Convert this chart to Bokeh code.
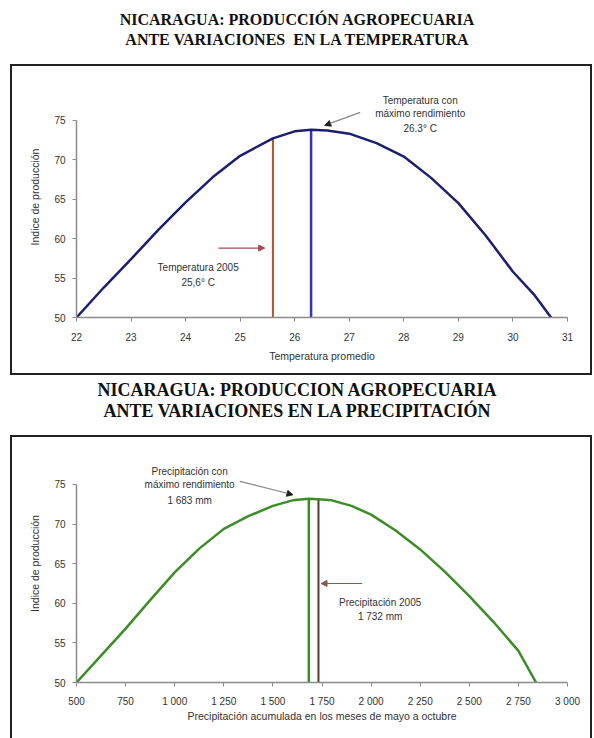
from bokeh.plotting import figure
from bokeh.models import (Range1d, FixedTicker, Div, Arrow, NormalHead, Label)
from bokeh.layouts import column
from bokeh.embed import file_html
from bokeh.resources import INLINE

# ---------------- data ----------------
temp = [22, 22.5, 23, 23.5, 24, 24.5, 25, 25.6, 26, 26.3, 26.6, 27, 27.5, 28,
        28.5, 29, 29.5, 30, 30.4, 30.7]
prod_temp = [50, 53.8, 57.4, 61.1, 64.6, 67.8, 70.5, 72.7, 73.6, 73.8, 73.7,
             73.3, 72.1, 70.4, 67.7, 64.5, 60.4, 55.8, 52.8, 50]
temp_2005 = 25.6
temp_2005_prod = 72.7
temp_opt = 26.3
temp_opt_prod = 73.8
temp_ticks = [22, 23, 24, 25, 26, 27, 28, 29, 30, 31]

precip = [500, 625, 750, 875, 1000, 1125, 1250, 1375, 1500, 1600, 1683, 1732,
          1800, 1900, 2000, 2125, 2250, 2375, 2500, 2625, 2750, 2840]
prod_precip = [50, 53.4, 56.8, 60.4, 63.9, 66.9, 69.4, 71.0, 72.3, 73.0, 73.2,
               73.15, 73.0, 72.3, 71.2, 69.2, 66.8, 64.0, 60.9, 57.6, 54.0, 50]
precip_opt = 1683
precip_opt_prod = 73.2
precip_2005 = 1732
precip_2005_prod = 73.15
precip_ticks = [500, 750, 1000, 1250, 1500, 1750, 2000, 2250, 2500, 2750, 3000]
precip_tick_labels = ["500", "750", "1 000", "1 250", "1 500", "1 750",
                      "2 000", "2 250", "2 500", "2 750", "3 000"]
y_ticks = [50, 55, 60, 65, 70, 75]

FONT = "Liberation Sans"
TXT = "#333333"


def title_div(l1, l2, size, lh, pad, h):
    html = (f'<div style="width:594px;padding-top:{pad}px;text-align:center;'
            f'font-family:\'Liberation Serif\',serif;font-weight:bold;font-size:{size}px;'
            f'line-height:{lh}px;color:#111;white-space:pre;">{l1}<br>{l2}</div>')
    return Div(text=html, width=594, height=h, margin=(0, 0, 0, 0))


def style_fig(p, box):
    p.xgrid.visible = False
    p.ygrid.visible = False
    p.outline_line_color = None
    p.background_fill_color = "white"
    p.border_fill_color = "white"
    for ax in (p.xaxis[0], p.yaxis[0]):
        ax.axis_line_color = "#8a8a8a"
        ax.axis_line_width = 1.5
        ax.major_tick_line_color = "#8a8a8a"
        ax.major_tick_out = 4
        ax.major_tick_in = 0
        ax.minor_tick_line_color = None
        ax.major_label_text_font = FONT
        ax.major_label_text_font_size = "10px"
        ax.major_label_text_color = TXT
        ax.axis_label_text_font = FONT
        ax.axis_label_text_font_size = "10.5px"
        ax.axis_label_text_font_style = "normal"
        ax.axis_label_text_color = TXT
    p.styles = box


def label(p, x, y, text, size="10px"):
    p.add_layout(Label(x=x, y=y, text=text, text_font=FONT, text_font_size=size,
                       text_color=TXT, text_align="center", text_baseline="middle"))


# ---------------- figure 1: temperature ----------------
p1 = figure(width=582, height=311, output_backend="svg", toolbar_location=None,
            x_range=Range1d(22, 31), y_range=Range1d(50, 80.55),
            min_border_left=64, min_border_right=13, min_border_top=10,
            min_border_bottom=60, margin=(0, 0, 0, 10))
style_fig(p1, {"border": "2px solid #222222", "box-sizing": "border-box"})
p1.xaxis.ticker = FixedTicker(ticks=temp_ticks)
p1.yaxis.ticker = FixedTicker(ticks=y_ticks)
p1.yaxis.bounds = (50, 75)
p1.xaxis.axis_label = "Temperatura promedio"
p1.yaxis.axis_label = "Indice de producción"
p1.xaxis.major_label_standoff = 11
p1.xaxis.axis_label_standoff = 6
p1.yaxis.major_label_standoff = 7
p1.yaxis.axis_label_standoff = 10

p1.segment(x0=[temp_2005], y0=[50], x1=[temp_2005], y1=[temp_2005_prod],
           line_color="#b0522a", line_width=2)
p1.segment(x0=[temp_opt], y0=[50], x1=[temp_opt], y1=[temp_opt_prod],
           line_color="#3535b5", line_width=2.5)
p1.line(temp, prod_temp, line_color="#1e1e6e", line_width=2.5)

label(p1, 24.23, 56.4, "Temperatura 2005")
label(p1, 24.23, 54.4, "25,6° C")
p1.add_layout(Arrow(x_start=24.6, y_start=58.8, x_end=25.45, y_end=58.8,
                    line_color="#a04a5a", line_width=1.2,
                    end=NormalHead(size=6, fill_color="#a04a5a", line_color="#a04a5a")))
label(p1, 28.3, 77.5, "Temperatura con")
label(p1, 28.3, 75.85, "máximo rendimiento")
label(p1, 28.3, 74.0, "26.3° C")
p1.add_layout(Arrow(x_start=27.2, y_start=76.0, x_end=26.55, y_end=74.35,
                    line_color="#888888", line_width=1.2,
                    end=NormalHead(size=6, fill_color="#222", line_color="#222")))

# ---------------- figure 2: precipitation ----------------
p2 = figure(width=582, height=303, output_backend="svg", toolbar_location=None,
            x_range=Range1d(500, 3000), y_range=Range1d(50, 80.05),
            min_border_left=64, min_border_right=27, min_border_top=7,
            min_border_bottom=58, margin=(0, 0, 0, 10))
style_fig(p2, {"border": "2px solid #222222", "border-bottom": "none",
               "box-sizing": "border-box"})
p2.xaxis.ticker = FixedTicker(ticks=precip_ticks)
p2.xaxis.major_label_overrides = {t: s for t, s in zip(precip_ticks, precip_tick_labels)}
p2.yaxis.ticker = FixedTicker(ticks=y_ticks)
p2.yaxis.bounds = (50, 75)
p2.xaxis.axis_label = "Precipitación acumulada en los meses de mayo a octubre"
p2.yaxis.axis_label = "Indice de producción"
p2.xaxis.major_label_standoff = 9
p2.xaxis.axis_label_standoff = 0
p2.yaxis.major_label_standoff = 7
p2.yaxis.axis_label_standoff = 10

p2.segment(x0=[precip_opt], y0=[50], x1=[precip_opt], y1=[precip_opt_prod],
           line_color="#3a8a2a", line_width=2.5)
p2.segment(x0=[precip_2005], y0=[50], x1=[precip_2005], y1=[precip_2005_prod],
           line_color="#5a3a30", line_width=2)
p2.line(precip, prod_precip, line_color="#3c8c28", line_width=2.5)

label(p2, 1076, 76.6, "Precipitación con")
label(p2, 1076, 75.0, "máximo rendimiento")
label(p2, 1076, 73.0, "1 683 mm")
p2.add_layout(Arrow(x_start=1332, y_start=75.4, x_end=1602, y_end=73.7,
                    line_color="#888888", line_width=1.2,
                    end=NormalHead(size=6, fill_color="#222", line_color="#222")))
label(p2, 2046, 60.1, "Precipitación 2005")
label(p2, 2046, 58.3, "1 732 mm")
p2.add_layout(Arrow(x_start=1954, y_start=62.5, x_end=1745, y_end=62.5,
                    line_color="#8a5a50", line_width=1.2,
                    end=NormalHead(size=6, fill_color="#8a5a50", line_color="#8a5a50")))

t1 = title_div("NICARAGUA: PRODUCCIÓN AGROPECUARIA",
               "ANTE VARIACIONES  EN LA TEMPERATURA", 16, 20, 10, 64)
t2 = title_div("NICARAGUA: PRODUCCION AGROPECUARIA",
               "ANTE VARIACIONES EN LA PRECIPITACIÓN", 18, 21, 5, 60)

layout = column(t1, p1, t2, p2, spacing=0, margin=(0, 0, 0, 0))
open("out.html", "w").write(file_html(layout, INLINE))
